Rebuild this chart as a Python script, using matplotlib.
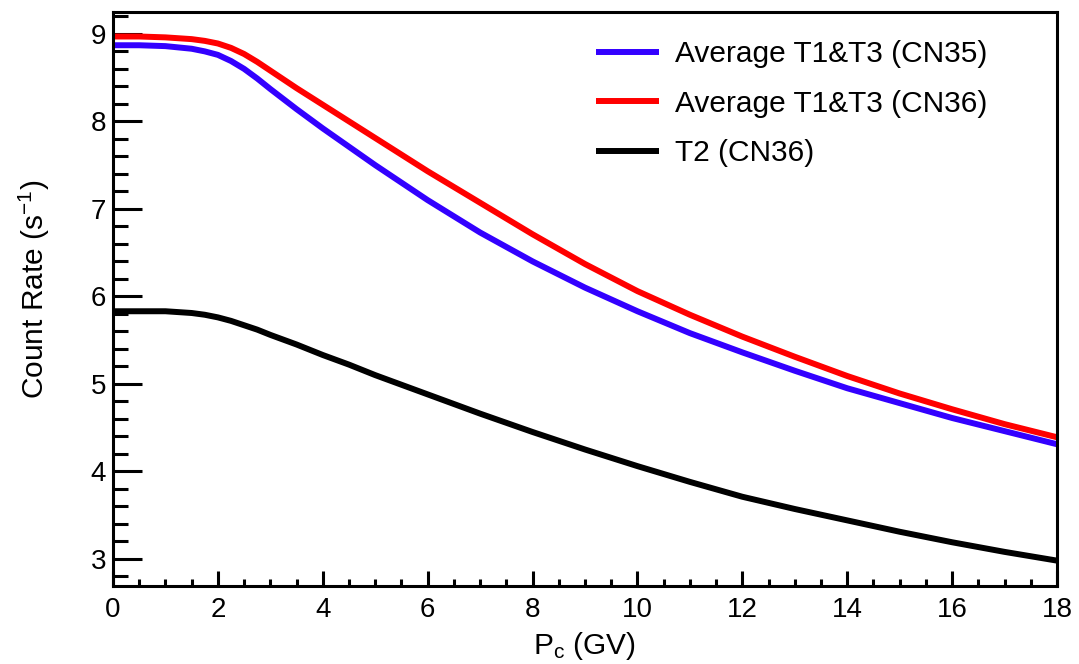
import matplotlib
matplotlib.use("Agg")
import matplotlib.pyplot as plt
from matplotlib.ticker import MultipleLocator

plt.rcParams['font.family'] = ['Liberation Sans', 'DejaVu Sans']
plt.rcParams['mathtext.fontset'] = 'custom'
plt.rcParams['mathtext.rm'] = 'Liberation Sans'
plt.rcParams['mathtext.it'] = 'Liberation Sans'

pc = [0, 0.5, 1, 1.5, 1.75, 2, 2.25, 2.5, 2.75, 3, 3.5, 4, 4.5, 5, 5.5, 6,
      7, 8, 9, 10, 11, 12, 13, 14, 15, 16, 17, 18]
cn35_avg = [8.87, 8.87, 8.86, 8.83, 8.80, 8.76, 8.69, 8.60, 8.49, 8.37, 8.14, 7.92,
            7.71, 7.50, 7.30, 7.10, 6.73, 6.40, 6.10, 5.83, 5.58, 5.36, 5.15, 4.95,
            4.78, 4.61, 4.46, 4.31]
cn36_avg = [8.97, 8.97, 8.96, 8.94, 8.92, 8.89, 8.84, 8.77, 8.68, 8.58, 8.38, 8.19,
            8.00, 7.81, 7.62, 7.43, 7.07, 6.71, 6.37, 6.06, 5.79, 5.54, 5.31, 5.09,
            4.89, 4.71, 4.54, 4.39]
cn36_t2 = [5.83, 5.83, 5.83, 5.81, 5.79, 5.76, 5.72, 5.67, 5.62, 5.56, 5.45, 5.33,
           5.22, 5.10, 4.99, 4.88, 4.66, 4.45, 4.25, 4.06, 3.88, 3.71, 3.57, 3.44,
           3.31, 3.19, 3.08, 2.98]

labels = ["Average T1&T3 (CN35)", "Average T1&T3 (CN36)", "T2 (CN36)"]
colors = ["#3300ff", "#ff0000", "#000000"]

fig = plt.figure(figsize=(10.79, 6.64), dpi=100)
ax = fig.add_axes([113/1079, 1 - 586/664, (1057-113)/1079, (586-12)/664])

for ys, lab, c in zip([cn35_avg, cn36_avg, cn36_t2], labels, colors):
    ax.plot(pc, ys, color=c, lw=4.3, label=lab, solid_capstyle='butt',
            solid_joinstyle='round')

ax.set_xlim(0, 18)
ax.set_ylim(2.69, 9.25)
ax.xaxis.set_major_locator(MultipleLocator(2))
ax.xaxis.set_minor_locator(MultipleLocator(0.5))
ax.yaxis.set_major_locator(MultipleLocator(1))
ax.yaxis.set_minor_locator(MultipleLocator(0.2))

for s in ax.spines.values():
    s.set_linewidth(2.2)

ax.tick_params(axis='x', which='major', direction='in', length=10.8, width=2.2,
               labelsize=20, pad=8)
ax.tick_params(axis='x', which='minor', direction='in', length=5, width=2.2)
ax.tick_params(axis='y', which='major', direction='in', length=21, width=2.2,
               labelsize=20, pad=5)
ax.tick_params(axis='y', which='minor', direction='in', length=11, width=2.2)

ax.set_xlabel("P$_{\\mathrm{c}}$ (GV)", fontsize=21.5, labelpad=5)
ax.set_ylabel("Count Rate (s$^{-1}$)", fontsize=21.5)
ax.yaxis.set_label_coords(-0.0646, 0.516)

leg = ax.legend(loc='upper left', bbox_to_anchor=(596/1079, 1 - 40/664),
                bbox_transform=fig.transFigure, frameon=False, fontsize=21.5,
                handlelength=2.1, handletextpad=0.55, labelspacing=0.72, borderpad=0,
                borderaxespad=0)
for h in leg.get_lines():
    h.set_linewidth(4.3)

fig.savefig("out.png", dpi=100)
